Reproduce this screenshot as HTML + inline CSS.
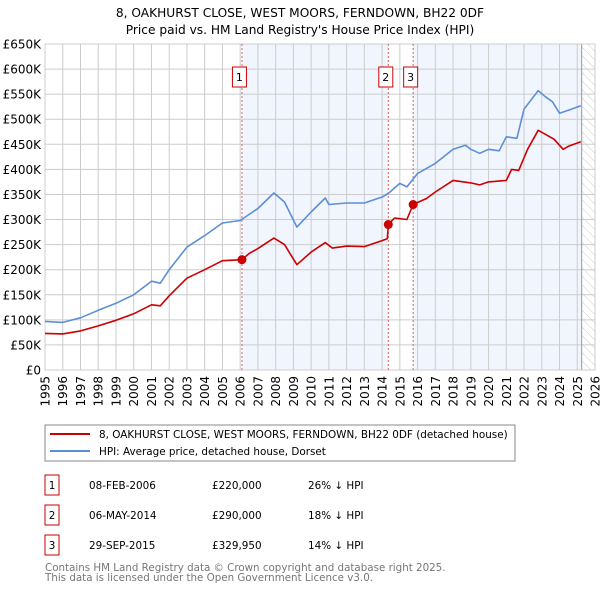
<!DOCTYPE html>
<html><head><meta charset="utf-8"><style>
body{margin:0;background:#fff;}
svg{display:block;font-family:"DejaVu Sans","Liberation Sans",sans-serif;}
</style></head><body>
<svg id="c" width="600" height="590" viewBox="0 0 600 590">
<defs><pattern id="hatch" width="6" height="6" patternUnits="userSpaceOnUse" patternTransform="rotate(-45)"><line x1="0" y1="0" x2="0" y2="6" stroke="#ccc" stroke-width="1"/></pattern></defs>
<text x="300" y="17" text-anchor="middle" font-size="12.2">8, OAKHURST CLOSE, WEST MOORS, FERNDOWN, BH22 0DF</text>
<text x="300" y="34" text-anchor="middle" font-size="12.2">Price paid vs. HM Land Registry's House Price Index (HPI)</text>
<g id="plot"></g>
<rect x="45" y="425" width="470" height="36" fill="#fff" stroke="#888"/>
<line x1="50" y1="434" x2="90" y2="434" stroke="#cc0000" stroke-width="2"/>
<text x="99" y="438" font-size="10.4">8, OAKHURST CLOSE, WEST MOORS, FERNDOWN, BH22 0DF (detached house)</text>
<line x1="50" y1="451" x2="90" y2="451" stroke="#5b8fd6" stroke-width="2"/>
<text x="99" y="455" font-size="10.4">HPI: Average price, detached house, Dorset</text>
<g id="table" font-size="10.4"></g>
<text x="45" y="571" font-size="10.3" fill="#777">Contains HM Land Registry data © Crown copyright and database right 2025.</text>
<text x="45" y="581" font-size="10.3" fill="#777">This data is licensed under the Open Government Licence v3.0.</text>
</svg>
<script>
const hpiYears=[1995,1996,1997,1998,1999,2000,2001,2001.5,2002,2003,2004,2005,2006,2006.5,2007,2007.9,2008.5,2009.2,2010,2010.8,2011,2012,2013,2014,2014.35,2015,2015.4,2016,2017,2018,2018.7,2019,2019.5,2020,2020.6,2021,2021.6,2022,2022.8,2023.2,2023.6,2024,2024.5,2025.2];
const hpiValues=[97,95,104,119,133,150,177,173,200,245,268,293,298,310,322,353,335,285,315,343,330,333,333,345,352,372,365,392,412,440,448,440,432,440,437,465,462,520,557,545,535,512,518,527];
const propYears=[1995,1996,1997,1998,1999,2000,2001,2001.5,2002,2003,2004,2005,2006.1,2006.5,2007,2007.9,2008.5,2009.2,2010,2010.8,2011.2,2012,2013,2014,2014.3,2014.35,2014.7,2015.4,2015.75,2016.5,2017,2018,2019,2019.5,2020,2021,2021.3,2021.7,2022.2,2022.8,2023.4,2023.7,2024.2,2024.5,2025.2];
const propValues=[73,72,78,88,99,112,130,128,148,183,200,218,220,232,242,263,250,210,235,254,243,247,246,258,262,290,303,300,330,342,355,378,373,369,375,378,400,398,440,478,466,460,440,446,455];
const saleYears=[2006.1,2014.35,2015.75];
const saleValues=[220,290,329.95];
const saleLabels=["1","2","3"];
const saleDates=["08-FEB-2006","06-MAY-2014","29-SEP-2015"];
const salePrices=["£220,000","£290,000","£329,950"];
const salePcts=["26% ↓ HPI","18% ↓ HPI","14% ↓ HPI"];
const yTicks=[0,50,100,150,200,250,300,350,400,450,500,550,600,650];
const yTickLabels=["£0","£50K","£100K","£150K","£200K","£250K","£300K","£350K","£400K","£450K","£500K","£550K","£600K","£650K"];
const xTicks=[1995,1996,1997,1998,1999,2000,2001,2002,2003,2004,2005,2006,2007,2008,2009,2010,2011,2012,2013,2014,2015,2016,2017,2018,2019,2020,2021,2022,2023,2024,2025,2026];
const dataEnd=2025.25;

const L=45,R=595,T=44,B=370,x0=1995,x1=2026,yMax=650;
const X=v=>L+(v-x0)/(x1-x0)*(R-L);
const Y=v=>B-v/yMax*(B-T);
const NS="http://www.w3.org/2000/svg";
const g=document.getElementById('plot');
function mk(tag,attrs,parent){const e=document.createElementNS(NS,tag);for(const k in attrs)e.setAttribute(k,attrs[k]);(parent||g).appendChild(e);return e;}
let e;
e=mk('rect',{x:L,y:T,width:R-L,height:B-T,fill:'#fff'});


e=mk('rect',{x:X(saleYears[0]),y:T,width:X(saleYears[1])-X(saleYears[0]),height:B-T,fill:'#eef3fc',opacity:0.8});


e=mk('rect',{x:X(saleYears[2]),y:T,width:X(dataEnd)-X(saleYears[2]),height:B-T,fill:'#eef3fc',opacity:0.8});


e=mk('rect',{x:X(dataEnd),y:T,width:R-X(dataEnd),height:B-T,fill:'url(#hatch)'});


yTicks.forEach((v,i)=>{
  e=mk('line',{x1:L,x2:R,y1:Y(v),y2:Y(v),stroke:'#ccc','stroke-width':1});
  
  
  e=mk('text',{x:L-4,y:Y(v)+4.5,'text-anchor':'end','font-size':12});
  e.textContent=yTickLabels[i];
  
  
});
xTicks.forEach(v=>{
  e=mk('line',{x1:X(v),x2:X(v),y1:T,y2:B,stroke:'#ccc','stroke-width':1});
  
  
  e=mk('text',{x:X(v)+4.5,y:B+6,'text-anchor':'end','font-size':12,transform:`rotate(-90 ${X(v)+4.5} ${B+6})`});
  e.textContent=String(v);
  
  
});
e=mk('line',{x1:X(dataEnd),x2:X(dataEnd),y1:T,y2:B,stroke:'#999','stroke-width':1});


e=mk('rect',{x:L,y:T,width:R-L,height:B-T,fill:'none',stroke:'#ccc'});


saleYears.forEach((v,i)=>{
  e=mk('line',{x1:X(v),x2:X(v),y1:T,y2:B,stroke:'#e06060','stroke-width':1,'stroke-dasharray':'2,2'});
  
  
  e=mk('rect',{x:X(v)-9.5,y:67,width:14,height:20,fill:'#fff',stroke:'#cc0000'});
  
  
  e=mk('text',{x:X(v)-2.5,y:81,'text-anchor':'middle','font-size':11});
  e.textContent=saleLabels[i];
  
  
});
function line(xs,ys,col,name){
  e=mk('polyline',{points:xs.map((v,i)=>X(v).toFixed(1)+','+Y(ys[i]).toFixed(1)).join(' '),fill:'none',stroke:col,'stroke-width':1.6,'stroke-linejoin':'round'});
  
  
}
line(hpiYears,hpiValues,'#5b8fd6','hpi-line');
line(propYears,propValues,'#cc0000','property-line');
saleYears.forEach((v,i)=>{
  e=mk('circle',{cx:X(v),cy:Y(saleValues[i]),r:4.5,fill:'#cc0000'});
  
  
});
const tb=document.getElementById('table');
saleLabels.forEach((lab,i)=>{
  const yb=475+i*30;
  e=mk('rect',{x:45,y:yb,width:14,height:20,fill:'#fff',stroke:'#cc0000'},tb);
  
  
  e=mk('text',{x:52,y:yb+14,'text-anchor':'middle'},tb);e.textContent=lab;
  
  
  e=mk('text',{x:89,y:yb+14},tb);e.textContent=saleDates[i];
  
  
  e=mk('text',{x:212,y:yb+14},tb);e.textContent=salePrices[i];
  
  
  e=mk('text',{x:308,y:yb+14},tb);e.textContent=salePcts[i];
  
  
});
</script>
</body></html>
